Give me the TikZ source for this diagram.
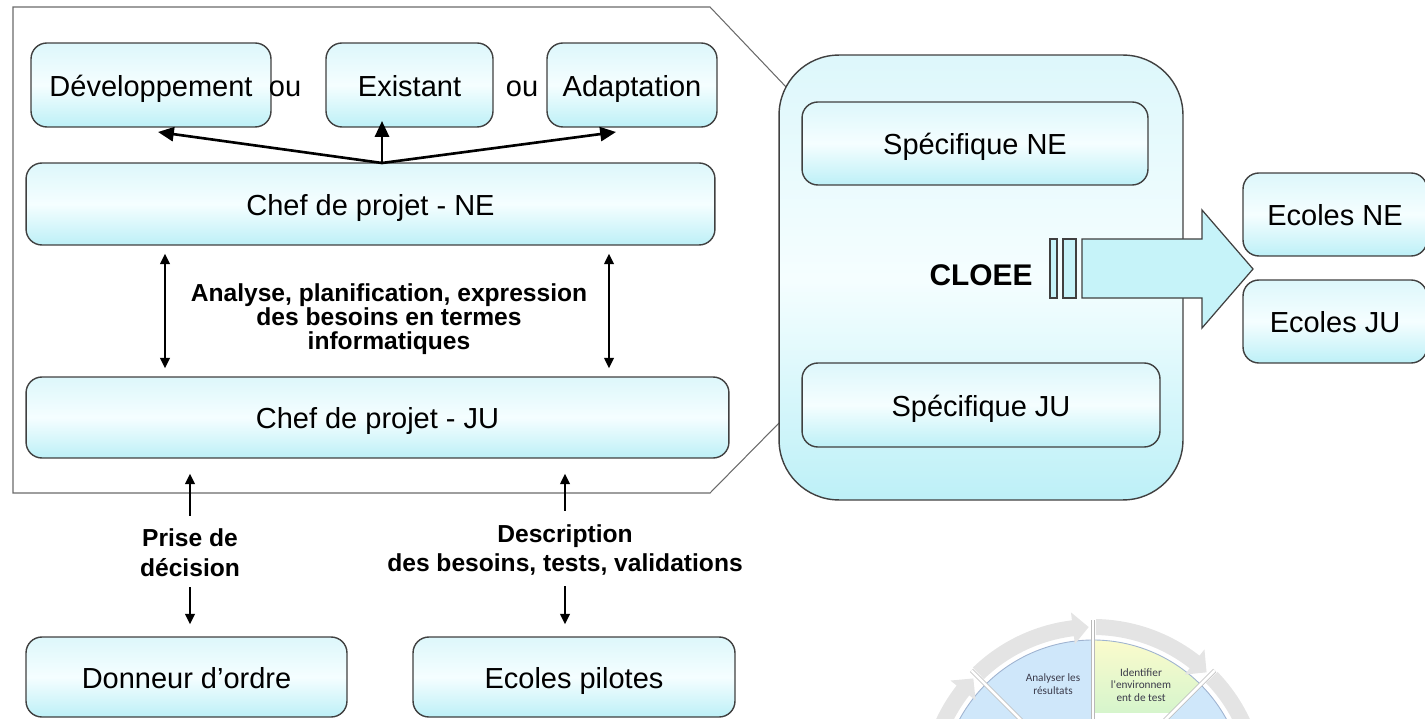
\documentclass[tikz,border=0pt]{standalone}
\usepackage{fontspec}
\setmainfont{Liberation Sans}
\newfontfamily\wheelfont{Carlito}
\usepackage{tikz}
\usetikzlibrary{arrows.meta,positioning}

\definecolor{boxline}{HTML}{404040}
\definecolor{frameline}{HTML}{6A6A6A}
\definecolor{cyantop}{HTML}{DDF7FB}
\definecolor{cyanmid}{HTML}{F5FEFF}
\definecolor{cyanbot}{HTML}{BDF0F7}
\definecolor{arrowfill}{HTML}{C6F3F9}
\definecolor{ringgray}{HTML}{E4E4E4}
\definecolor{secblue}{HTML}{CFE7FA}
\definecolor{secedge}{HTML}{9FB3D0}
\definecolor{secyellow}{HTML}{FBFBCC}
\definecolor{secgreen}{HTML}{D6F5CC}
\definecolor{wheeltext}{HTML}{3A3A4A}

\tikzset{
	box/.style={draw=boxline, line width=0.8pt, rounded corners=9pt,
		top color=cyantop, bottom color=cyanbot, middle color=cyanmid,
		inner sep=0pt, text height=14pt, text depth=1pt,
		font=\fontsize{16.5}{19}\selectfont},
	plain/.style={inner sep=0pt, text height=14pt, text depth=1pt, font=\fontsize{16.5}{19}\selectfont},
	note/.style={align=center, inner sep=0pt, font=\bfseries\fontsize{14}{13.6}\selectfont},
	cue/.style={align=center, inner sep=0pt, font=\bfseries\fontsize{14}{17}\selectfont},
	frame/.style={draw=frameline, line width=0.6pt},
	fan/.style={-{Triangle[length=9pt,width=8pt]}, line width=1.5pt},
	link/.style={-{Triangle[length=6pt,width=5.5pt]}, line width=1.1pt},
	dbl/.style={{Triangle[length=6pt,width=5.5pt]}-{Triangle[length=6pt,width=5.5pt]},
		line width=1.1pt, shorten <=0.16cm, shorten >=0.16cm},
	wheeltxt/.style={align=center, inner sep=0pt, text=wheeltext,
		font=\wheelfont\fontsize{6.4}{7.1}\selectfont},
}

\begin{document}
\begin{tikzpicture}[x=0.02cm,y=-0.02cm]
	\useasboundingbox (0,0) rectangle (1425,719);

	\draw[frame] (787,88) -- (710,7) -- (13,7) -- (13,493) -- (710,493) -- (779,423);

	\node[box, minimum width=4.80cm, minimum height=1.68cm] (dev)     at (151,85)     {Développement};
	\node[plain]                                             (ou1)     at (285,85)     {ou};
	\node[box, minimum width=3.34cm, minimum height=1.68cm] (exist)   at (409.5,85)   {Existant};
	\node[plain]                                             (ou2)     at (522,85)     {ou};
	\node[box, minimum width=3.40cm, minimum height=1.68cm] (adapt)   at (632,85)     {Adaptation};
	\node[box, minimum width=13.78cm, minimum height=1.64cm] (chefne) at (370.5,204)  {Chef de projet - NE};
	\node[note]                                              (analyse) at (389,319)    {Analyse, planification, expression\\des besoins en termes\\informatiques};
	\node[box, minimum width=14.06cm, minimum height=1.62cm] (chefju) at (377.5,417.5) {Chef de projet - JU};
	\node[cue]                                               (prise)   at (190,553)    {Prise de\\décision};
	\node[cue]                                               (descr)   at (565,550)    {Description\\des besoins, tests, validations};
	\node[box, minimum width=6.42cm, minimum height=1.60cm] (donneur) at (186.5,677)  {Donneur d’ordre};
	\node[box, minimum width=6.44cm, minimum height=1.60cm] (pilotes) at (574,677)    {Ecoles pilotes};

	\node[box, rounded corners=1.2cm, minimum width=8.08cm, minimum height=8.9cm] (plateforme) at (981,277.5) {};
	\node[box, minimum width=6.92cm, minimum height=1.66cm] (specne)  at (975,143.5)  {Spécifique NE};
	\node[box, minimum width=7.16cm, minimum height=1.68cm] (specju)  at (981,405)    {Spécifique JU};
	\node[inner sep=0pt, font=\bfseries\fontsize{17}{19}\selectfont] (cloee) at (981,275) {CLOEE};
	\node[box, minimum width=3.68cm, minimum height=1.66cm] (ecne)    at (1335,214.5) {Ecoles NE};
	\node[box, minimum width=3.68cm, minimum height=1.66cm] (ecju)    at (1335,321.5) {Ecoles JU};

	\draw[boxline, line width=0.7pt, fill=arrowfill] (1050,239) rectangle (1057,298);
	\draw[boxline, line width=0.7pt, fill=arrowfill] (1063,239) rectangle (1076,298);
	\draw[boxline, line width=0.7pt, fill=arrowfill]
		(1082,239) -- (1202,239) -- (1202,210) -- (1253,269) -- (1202,328) -- (1202,298) -- (1082,298) -- cycle;

	\coordinate (split) at (382,163);
	\coordinate (devin) at (158,132);
	\coordinate (exin)  at (382,121);
	\coordinate (adin)  at (616,132);
	\coordinate (lx)    at (165,0);
	\coordinate (rx)    at (609,0);

	\path [fan]
		(split) edge (devin)
		        edge (exin)
		        edge (adin);
	\draw[dbl] (chefne.south -| lx) -- (chefju.north -| lx);
	\draw[dbl] (chefne.south -| rx) -- (chefju.north -| rx);
	\path [link]
		([yshift=0.26cm]prise.north) edge [shorten >=0.3cm]                     (chefju.south -| prise)
		(prise.south)                edge [shorten <=0.2cm, shorten >=0.24cm]   (donneur.north -| prise)
		([yshift=0.26cm]descr.north) edge [shorten >=0.3cm]                     (chefju.south -| descr)
		(descr.south)                edge [shorten <=0.2cm, shorten >=0.24cm]   (pilotes.north -| descr);

	\begin{scope}
		\clip (0,0) rectangle (1425,719);
		\begin{scope}[shift={(1093,792)},y=0.02cm]
			\foreach \a in {0,90,135}
				\fill[secblue] (0,0) -- (\a:152) arc[start angle=\a,end angle=\a+45,radius=152] -- cycle;
			\begin{scope}
				\clip (0,0) -- (45:152) arc[start angle=45,end angle=90,radius=152] -- cycle;
				\shade[top color=secyellow,bottom color=secgreen] (0,80) rectangle (160,152);
			\end{scope}
			\foreach \a in {0,45,90,135}
				\draw[secedge, line width=0.5pt] (\a:152) arc[start angle=\a,end angle=\a+45,radius=152];
			\foreach \a in {0,45,90,135,180}
				\draw[gray!55, line width=0.4pt, double=white, double distance=1.6pt] (0,0) -- (\a:172);
			\foreach \a in {0,45,90,135,180}
				\fill[ringgray] (\a+44:157) arc[start angle=\a+44,end angle=\a+7,radius=157]
					-- (\a+7:149) -- (\a+1.5:165) -- (\a+7:181) -- (\a+7:173)
					arc[start angle=\a+7,end angle=\a+44,radius=173] -- cycle;
		\end{scope}
		\node[wheeltxt] (analyser) at (1053,684) {Analyser les\\résultats};
		\node[wheeltxt] (identif)  at (1141,685) {Identifier\\l'environnem\\ent de test};
	\end{scope}
\end{tikzpicture}
\end{document}
